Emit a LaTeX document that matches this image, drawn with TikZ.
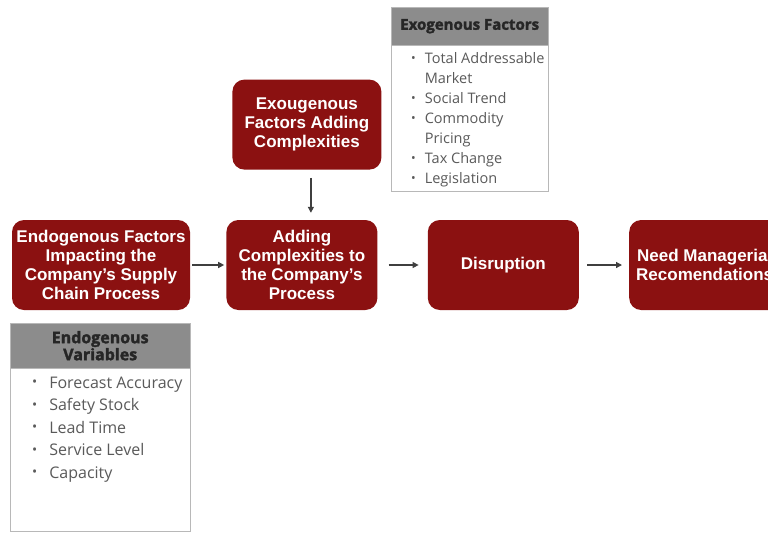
\documentclass[tikz,border=0pt]{standalone}
\usepackage{fontspec}
\setmainfont{Liberation Sans}
\newfontfamily\listfont{Open Sans}
\newfontfamily\headfont[FakeBold=2]{Open Sans Bold}
\usepackage{xcolor}
\definecolor{cBox}{HTML}{8B1111}
\definecolor{cHead}{HTML}{8C8C8C}
\definecolor{cLine}{HTML}{B8B8B8}
\definecolor{cText}{HTML}{5A5A5A}
\definecolor{cArrow}{HTML}{3F3F3F}
\usepackage{tikz}
\usetikzlibrary{positioning,arrows.meta,calc}
\tikzset{
  flow-box/.style={fill=cBox,draw=none,rounded corners=12pt,text=white,
    minimum height=90pt,minimum width=151pt,align=center,inner sep=0pt,
    font=\fontsize{17}{19}\selectfont\bfseries},
  panel-head/.style={fill=cHead,draw=cLine,inner sep=0pt,align=center,
    text=black!85},
  panel-body/.style={draw=cLine,fill=white,inner sep=0pt,text=cText},
  arrow/.style={-{Triangle[length=6pt,width=6pt]},line width=1.3pt,draw=cArrow},
}
% bullet of the side lists
\newcommand{\dotmark}{\raisebox{0.1em}{\scalebox{0.85}{\textbullet}}}

\begin{document}
\begin{tikzpicture}[x=1pt,y=-1pt,node distance=50pt]
  \useasboundingbox (0,0) rectangle (768,533);
  \clip (0,0) rectangle (768,533);
  \node[flow-box,minimum width=178pt] (endo) at (101,265)
    {Endogenous Factors\\Impacting the\\Company's Supply\\Chain Process};
  \node[flow-box,right=36pt of endo] (adding)
    {Adding\\Complexities to\\the Company's\\Process};
  \node[flow-box,right=of adding] (disrupt) {Disruption};
  \node[flow-box,right=of disrupt] (mgmt) {Need Managerial\\Recomendations};
  \node[flow-box,minimum width=149pt,above=of adding,xshift=5pt] (exo)
    {Exougenous\\Factors Adding\\Complexities};

  \draw[arrow,shorten <=2pt,shorten >=2pt] (endo) -- (adding);
  \draw[arrow,shorten <=11pt,shorten >=9pt] (adding) -- (disrupt);
  \draw[arrow,shorten <=8pt,shorten >=7pt] (disrupt) -- (mgmt);
  \draw[arrow,shorten <=8pt,shorten >=7pt]
    ([xshift=4pt]exo.south) -- ([xshift=4pt]exo.south |- adding.north);

  % exogenous list
  \node[panel-head,minimum width=157pt,minimum height=38pt,anchor=north west,
    font=\headfont\fontsize{15}{17}\selectfont] (exohead) at (391,7)
    {Exogenous Factors};
  \node[panel-body,below=0pt of exohead] (exolist)
    {\parbox[t][146pt][t]{157pt}{\vspace*{4pt}\hspace*{20pt}%
      \listfont\fontsize{14.5}{20}\selectfont
      \begin{tabular}[t]{@{}c@{\hspace{9pt}}l@{}}
        \dotmark & Total Addressable\\
                 & Market\\
        \dotmark & Social Trend\\
        \dotmark & Commodity\\
                 & Pricing\\
        \dotmark & Tax Change\\
        \dotmark & Legislation
      \end{tabular}}};

  % endogenous list
  \node[panel-head,minimum width=180pt,minimum height=45pt,anchor=north west,
    font=\headfont\fontsize{16}{17}\selectfont] (endohead) at (10,323)
    {Endogenous\\Variables};
  \node[panel-body,below=0pt of endohead] (endolist)
    {\parbox[t][163pt][t]{180pt}{\vspace*{4pt}\hspace*{22pt}%
      \listfont\fontsize{16}{22.5}\selectfont
      \begin{tabular}[t]{@{}c@{\hspace{12pt}}l@{}}
        \dotmark & Forecast Accuracy\\
        \dotmark & Safety Stock\\
        \dotmark & Lead Time\\
        \dotmark & Service Level\\
        \dotmark & Capacity
      \end{tabular}}};
\end{tikzpicture}
\end{document}
